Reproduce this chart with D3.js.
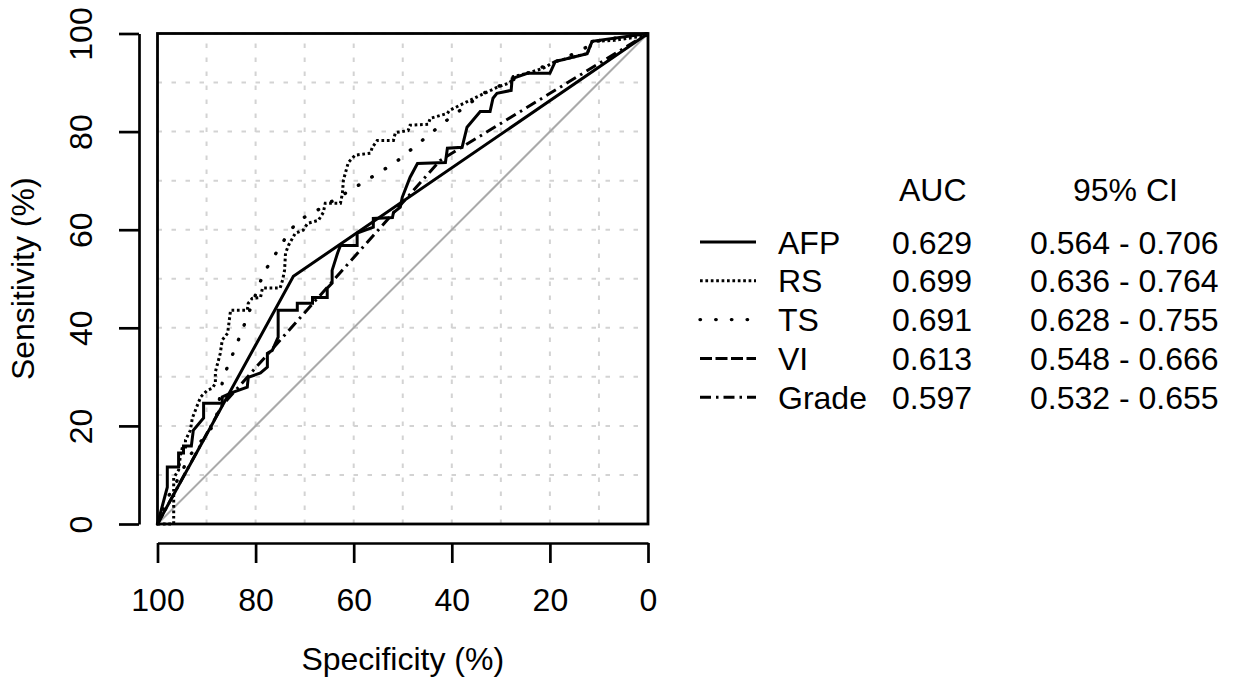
<!DOCTYPE html>
<html><head><meta charset="utf-8">
<script src="https://cdn.jsdelivr.net/npm/d3@7"></script>
<style>
body{margin:0;background:#fff}
svg{display:block}
text{font-family:"Liberation Sans",Arial,Helvetica,sans-serif;fill:#000}
</style>
</head><body>
<svg id="chart" width="1235" height="682"></svg>
<script>
// ---- data (specificity %, sensitivity %) ----
const xTicks = [100, 80, 60, 40, 20, 0];
const yTicks = [0, 20, 40, 60, 80, 100];
const gridValues = [0, 10, 20, 30, 40, 50, 60, 70, 80, 90, 100];

const afpCurve = [[100,0],[98.0,7.5],[98.0,11.6],[95.7,11.6],[95.7,14.5],[94.7,14.5],[94.7,15.9],[93.1,15.9],[92.7,19.1],[90.6,21.6],[90.6,24.6],[86.8,24.6],[86.8,25.9],[85.1,26.7],[81.7,27.9],[81.5,29.9],[79.0,30.8],[77.6,32.0],[77.6,34.8],[76.6,35.4],[75.4,38.1],[75.4,43.6],[71.5,43.6],[71.5,45.0],[68.4,45.0],[68.4,46.2],[65.4,46.2],[65.4,48.1],[64.4,49.1],[64.4,51.7],[63.3,55.2],[62.7,56.8],[59.3,56.8],[59.3,59.3],[56.0,60.5],[56.0,62.3],[52.1,62.5],[51.9,63.5],[50.5,64.6],[50.1,66.6],[48.5,70.7],[47.0,73.5],[41.3,73.7],[40.9,76.6],[37.9,76.8],[36.9,80.9],[34.2,84.1],[32.2,84.1],[31.6,86.8],[30.8,87.8],[27.9,88.4],[27.7,90.8],[24.6,91.9],[20.0,91.9],[18.9,94.3],[12.4,95.9],[11.4,98.4],[0,100]];

const rsCurve = [[100,0],[96.7,0],[96.7,9.4],[95.7,11.0],[95.3,14.1],[94.9,15.7],[94.3,15.7],[94.3,17.1],[93.3,19.1],[92.9,21.6],[91.2,25.9],[89.8,27.3],[88.8,27.7],[88.2,28.7],[88.2,31.0],[87.2,34.8],[86.8,37.5],[85.7,38.9],[85.1,43.6],[81.7,43.6],[81.5,45.0],[80.7,46.0],[79.0,46.2],[78.6,48.1],[75.0,48.1],[74.5,49.7],[74.1,51.7],[73.9,55.2],[73.3,56.8],[71.9,59.3],[70.3,59.9],[69.4,61.3],[67.2,61.9],[66.2,63.5],[65.8,65.4],[62.7,65.4],[62.3,67.4],[62.1,70.1],[61.1,73.7],[59.7,75.2],[56.6,75.6],[56.2,76.8],[55.2,78.2],[51.9,78.2],[51.5,79.8],[48.9,80.2],[48.5,81.3],[44.8,81.5],[44.4,82.7],[40.9,83.7],[40.5,84.3],[37.7,85.7],[34.2,87.4],[30.8,89.0],[28.1,90.0],[27.5,91.2],[24.6,91.9],[21.4,92.9],[18.9,94.3],[12.4,95.9],[11.4,98.4],[6.9,98.6],[0.2,99.6],[0,100]];

const tsCurve = [[100,0],[98.2,4.9],[96.7,7.5],[93.3,14.1],[88.2,20.6],[86.6,29.9],[84.1,36.0],[81.7,42.2],[78.4,51.1],[73.3,59.3],[71.3,61.9],[68.2,63.5],[60.1,68.4],[51.5,73.7],[41.3,82.1],[33.6,87.8],[24.6,91.9],[15.9,95.5],[9.8,98.6],[0,100]];

const viCurve = [[100,0],[72.3,50.5],[0,100]];

const gradeCurve = [[100,0],[86.8,24.2],[42.4,74.1],[0,100]];

const chanceLine = [[100,0],[0,100]];

const seriesNames = ["AFP", "RS", "TS", "VI", "Grade"];
const aucValues = ["0.629", "0.699", "0.691", "0.613", "0.597"];
const ciValues = ["0.564 - 0.706", "0.636 - 0.764", "0.628 - 0.755", "0.548 - 0.666", "0.532 - 0.655"];

// ---- drawing ----
const svg = d3.select("#chart");
const FONT = 32;
const LW = 3;
const x = d3.scaleLinear().domain([100, 0]).range([157.5, 648]);
const y = d3.scaleLinear().domain([0, 100]).range([524, 33.5]);

// grid
const grid = svg.append("g").attr("stroke", "#d3d3d3").attr("stroke-width", 2).attr("stroke-dasharray", "4.5,9.5");
grid.selectAll("line.v").data(gridValues).join("line").attr("class", "v")
  .attr("x1", d => x(d)).attr("x2", d => x(d)).attr("y1", y(0)).attr("y2", y(100));
grid.selectAll("line.h").data(gridValues).join("line").attr("class", "h")
  .attr("x1", x(100)).attr("x2", x(0)).attr("y1", d => y(d)).attr("y2", d => y(d));

const line = d3.line().x(d => x(d[0])).y(d => y(d[1]));

// chance diagonal
svg.append("path").datum(chanceLine).attr("d", line)
  .attr("fill", "none").attr("stroke", "#aaaaaa").attr("stroke-width", 2);

const curves = [
  {data: afpCurve, dash: null},
  {data: rsCurve, dash: "2.7,2.7"},
  {data: tsCurve, dash: "0.5,15.2", cap: "round", w: 3.4},
  {data: viCurve, dash: null},
  {data: gradeCurve, dash: "11,5,2.5,5"}
];
curves.forEach(c => {
  svg.append("path").datum(c.data).attr("d", line)
    .attr("fill", "none").attr("stroke", "#000")
    .attr("stroke-width", c.w || LW)
    .attr("stroke-linejoin", "miter")
    .attr("stroke-linecap", c.cap || "butt")
    .attr("stroke-dasharray", c.dash);
});

// box
svg.append("rect").attr("x", x(100)).attr("y", y(100))
  .attr("width", x(0) - x(100)).attr("height", y(0) - y(100))
  .attr("fill", "none").attr("stroke", "#000").attr("stroke-width", 2.8);

// x axis
const xAxis = svg.append("g").attr("transform", "translate(0,543)")
  .call(d3.axisBottom(x).tickValues(xTicks).tickSizeInner(20).tickSizeOuter(0).tickPadding(25).tickFormat(d3.format("d")));
xAxis.selectAll("path,line").attr("stroke", "#000").attr("stroke-width", 2.7);
xAxis.selectAll("text").attr("font-size", FONT).attr("font-family", "Liberation Sans, Arial, sans-serif");

// y axis
const yAxis = svg.append("g").attr("transform", "translate(139,0)")
  .call(d3.axisLeft(y).tickValues(yTicks).tickSizeInner(20).tickSizeOuter(0).tickFormat(d3.format("d")));
yAxis.selectAll("path,line").attr("stroke", "#000").attr("stroke-width", 2.7);
yAxis.selectAll("text").attr("font-size", FONT).attr("font-family", "Liberation Sans, Arial, sans-serif")
  .attr("x", null).attr("dy", null).attr("text-anchor", "middle")
  .attr("transform", "translate(-47.5,0) rotate(-90)");

// axis titles
svg.append("text").attr("x", (x(100) + x(0)) / 2).attr("y", 670)
  .attr("text-anchor", "middle").attr("font-size", FONT).text("Specificity (%)");
svg.append("text").attr("transform", `translate(34,${(y(0) + y(100)) / 2}) rotate(-90)`)
  .attr("text-anchor", "middle").attr("font-size", FONT).text("Sensitivity (%)");

// legend
const legendDash = [null, "2.7,2.7", "0.5,15.2", "12,3.5", "11,5,2.5,5"];
const legendCap = ["butt", "butt", "round", "butt", "butt"];
const legendW = [LW, LW, 3.4, LW, LW];
const rowY0 = 242, rowStep = 38.8, capOff = 11.5;
const lg = svg.append("g");
lg.append("text").attr("x", 899).attr("y", 189 + capOff).attr("font-size", FONT).text("AUC");
lg.append("text").attr("x", 1073).attr("y", 189 + capOff).attr("font-size", FONT).text("95% CI");
seriesNames.forEach((name, i) => {
  const cy = rowY0 + i * rowStep;
  lg.append("line").attr("x1", 700).attr("x2", 756).attr("y1", cy).attr("y2", cy)
    .attr("stroke", "#000").attr("stroke-width", legendW[i])
    .attr("stroke-linecap", legendCap[i]).attr("stroke-dasharray", legendDash[i]);
  lg.append("text").attr("x", 778).attr("y", cy + capOff).attr("font-size", FONT).text(name);
  lg.append("text").attr("x", 892).attr("y", cy + capOff).attr("font-size", FONT).text(aucValues[i]);
  lg.append("text").attr("x", 1030).attr("y", cy + capOff).attr("font-size", FONT).text(ciValues[i]);
});
</script>
</body></html>
